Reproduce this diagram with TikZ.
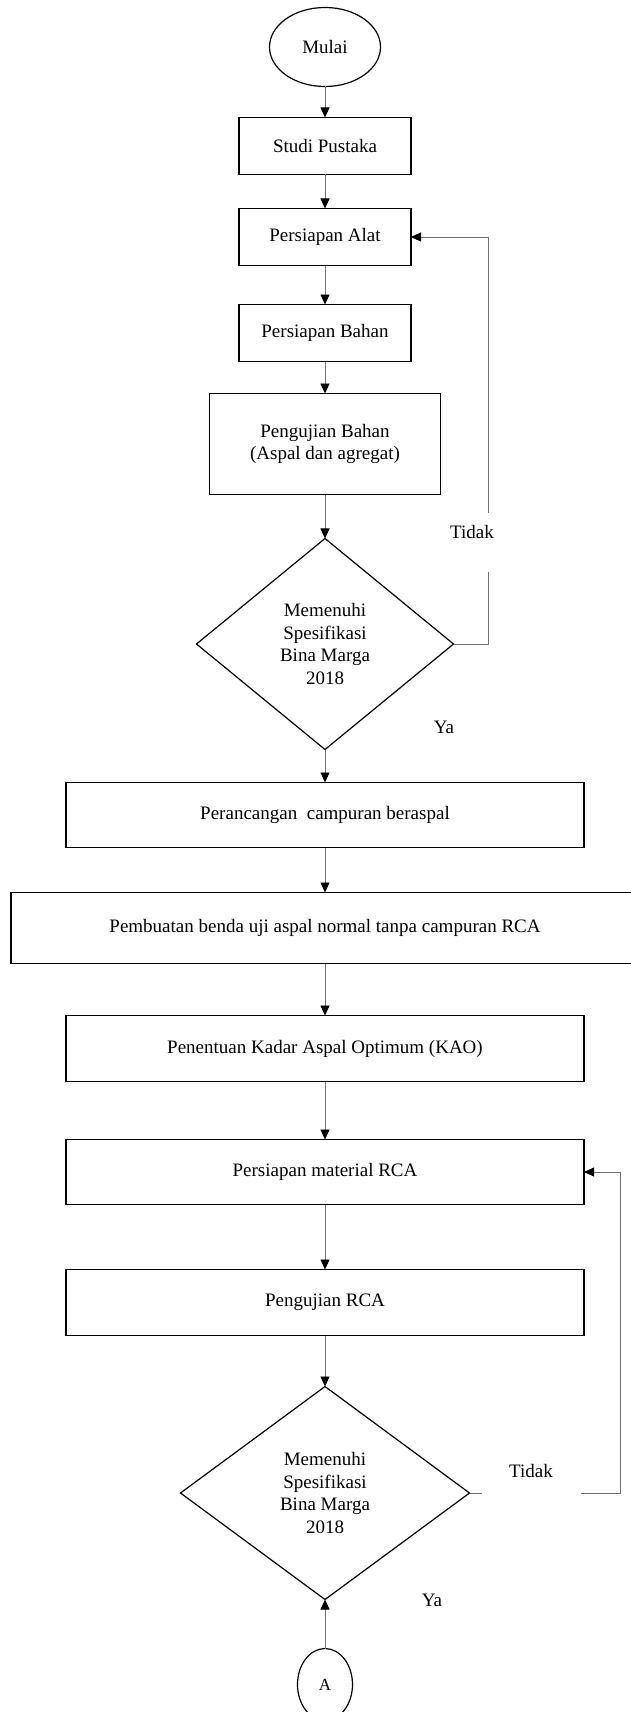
\documentclass[tikz,border=0pt]{standalone}
\usepackage{fontspec}
\setmainfont{Liberation Serif}
\usetikzlibrary{shapes.geometric, arrows.meta, positioning}

\begin{document}
\begin{tikzpicture}[
    x=1pt, y=1pt,
    font=\fontsize{19}{22.5}\selectfont,
    proses/.style={draw, line width=1.3pt, outer sep=0pt, inner sep=2pt, minimum width=518pt, minimum height=65pt, align=center},
    kecil/.style={proses, minimum width=172pt, minimum height=57pt},
    terminal/.style={draw, ellipse, line width=1.2pt, outer sep=0pt, minimum width=111pt, minimum height=79pt},
    keputusan/.style={draw, diamond, line width=1.2pt, outer sep=0pt, inner sep=0pt, align=center},
    garis/.style={line width=0.9pt, black!55},
    panah/.style={garis, -{Triangle[width=9pt, length=10pt, color=black]}},
    ket/.style={inner sep=0pt}
]
    \useasboundingbox (0,0) rectangle (631,-1712);

    % Alur utama
    \node[terminal] (mulai) at (325,-47) {Mulai};
    \node[kecil, below=31pt of mulai] (studi) {Studi Pustaka};
    \node[kecil, below=34pt of studi] (alat) {Persiapan Alat};
    \node[kecil, below=39pt of alat] (bahan) {Persiapan Bahan};
    \node[proses, minimum width=231pt, minimum height=101pt, below=32pt of bahan] (uji) {Pengujian Bahan\\(Aspal dan agregat)};
    \node[keputusan, minimum width=257pt, minimum height=211pt, below=44pt of uji] (cek1) {Memenuhi\\Spesifikasi\\Bina Marga\\2018};
    \node[proses, below=33pt of cek1] (rancang) {Perancangan\ \ campuran beraspal};
    \node[proses, minimum width=628pt, minimum height=71pt, below=45pt of rancang] (buat) {Pembuatan benda uji aspal normal tanpa campuran RCA};
    \node[proses, minimum height=66pt, below=52pt of buat] (kao) {Penentuan Kadar Aspal Optimum (KAO)};
    \node[proses, below=58pt of kao] (rca) {Persiapan material RCA};
    \node[proses, minimum height=66pt, below=65pt of rca] (ujirca) {Pengujian RCA};
    \node[keputusan, minimum width=289pt, minimum height=213pt, below=51pt of ujirca] (cek2) {Memenuhi\\Spesifikasi\\Bina Marga\\2018};
    \node[terminal, minimum width=55pt, minimum height=72pt, font=\fontsize{17}{20}\selectfont, below=49pt of cek2] (konA) {A};

    % Label
    \node[ket] (tidak1) at (472,-532) {Tidak};
    \node[ket] (ya1) at (444,-727) {Ya};
    \node[ket] (tidak2) at (531,-1471) {Tidak};
    \node[ket] (ya2) at (432,-1600) {Ya};

    % Titik bantu umpan balik
    \coordinate (putus1a) at (488,-513);
    \coordinate (putus1b) at (488,-572);
    \coordinate (putus2a) at (482,-1493);
    \coordinate (putus2b) at (581,-1493);
    \coordinate (belok2) at (620,-1493);

    % Panah
    \draw[panah] (mulai) -- (studi);
    \draw[panah] (studi) -- (alat);
    \draw[panah] (alat) -- (bahan);
    \draw[panah] (bahan) -- (uji);
    \draw[panah] (uji) -- (cek1);
    \draw[panah] (cek1) -- (rancang);
    \draw[panah] (rancang) -- (buat);
    \draw[panah] (buat) -- (kao);
    \draw[panah] (kao) -- (rca);
    \draw[panah] (rca) -- (ujirca);
    \draw[panah] (ujirca) -- (cek2);
    \draw[panah] (konA) -- (cek2);

    % Umpan balik
    \draw[garis] (cek1.east) -| (putus1b);
    \draw[panah] (putus1a) |- (alat.east);
    \draw[garis] (cek2.east) -- (putus2a);
    \draw[panah] (putus2b) -- (belok2) |- (rca.east);
\end{tikzpicture}
\end{document}
